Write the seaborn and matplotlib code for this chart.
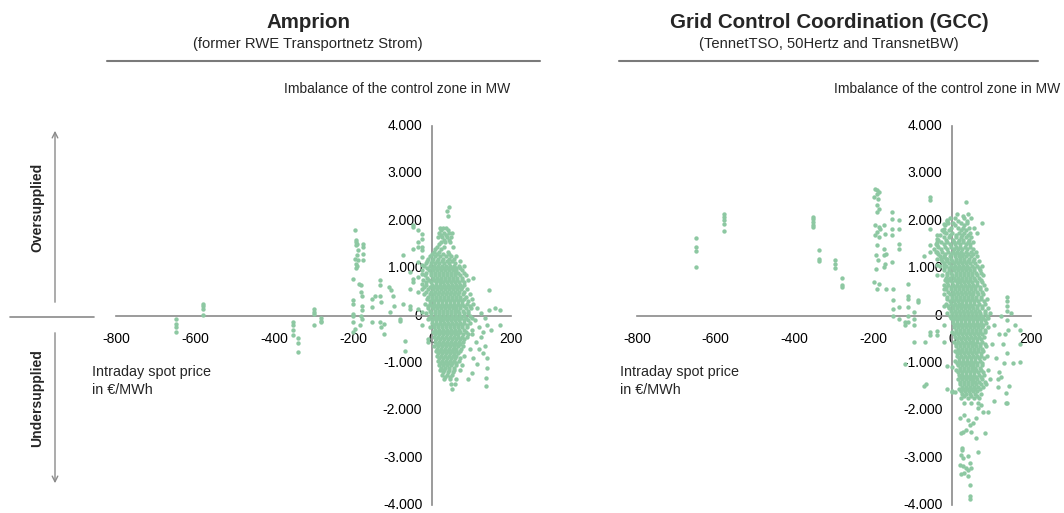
import numpy as np
import pandas as pd
import seaborn as sns
import matplotlib
matplotlib.use("Agg")
import matplotlib.pyplot as plt
from matplotlib.lines import Line2D
from matplotlib.patches import FancyArrowPatch
from matplotlib.ticker import FuncFormatter

# ---- data (price in EUR/MWh, imbalance in MW) ----

# Amprion: dense core, one row per imbalance level -> prices seen on that row
amp_core_imb = [2300, 2200, 2100, 1850, 1800, 1750, 1700, 1650, 1600, 1550, 1500, 1450, 1400,
                1350, 1300, 1250, 1200, 1150, 1100, 1050, 1000, 950, 900, 850, 800, 750, 700,
                650, 600, 550, 500, 450, 400, 350, 300, 250, 200, 150, 100, 50, 0, -50, -100,
                -150, -200, -250, -300, -350, -400, -450, -500, -550, -600, -650, -700, -750,
                -800, -850, -900, -950, -1000, -1050, -1100, -1150, -1200, -1250, -1300,
                -1350, -1450, -1550]
amp_core_price = [
    [42], [37], [41], [20, 28, 35], [24, 40], [18, 30, 42, 50], [22, 36], [15, 25, 38, 48],
    [30, 44], [22, 33, 45], [18], [12, 30, 52], [8, 24], [5, 18, 40], [0, 12, 28, 44],
    [-5, 8, 20, 35, 48, 62], [-10, 3, 15, 28, 42, 55], [-12, 0, 12, 25, 38, 50, 70],
    [-15, -2, 8, 18, 30, 42, 58], [-20, -5, 5, 15, 25, 35, 45, 55, 68, 80],
    [-12, 0, 10, 20, 30, 40, 50, 60, 72], [-25, -8, 2, 12, 22, 32, 42, 52, 62, 75],
    [-15, -3, 7, 17, 27, 37, 47, 57, 67, 80], [-18, -2, 8, 18, 28, 38, 48, 58, 70, 85],
    [-12, 3, 13, 23, 33, 43, 53, 63, 75], [-22, -8, 4, 14, 24, 34, 44, 54, 64, 76, 92],
    [-15, -2, 9, 19, 29, 39, 49, 59, 69, 82], [-15, 0, 10, 20, 30, 40, 50, 60, 70, 82],
    [-20, -5, 5, 15, 25, 35, 45, 55, 65, 77], [-25, -10, 3, 13, 23, 33, 43, 53, 63, 73, 88],
    [-15, -2, 8, 18, 28, 38, 48, 58, 68, 80], [-20, -5, 6, 16, 26, 36, 46, 56, 66, 78, 95],
    [-10, 1, 11, 21, 31, 41, 51, 61, 72, 85], [-12, 0, 10, 20, 30, 40, 50, 60, 70, 82, 100],
    [-6, 5, 15, 25, 35, 45, 55, 65, 76, 90], [-18, -4, 6, 16, 26, 36, 46, 56, 66, 76, 88],
    [-10, 1, 11, 21, 31, 41, 51, 61, 71, 82, 95], [-10, 2, 12, 22, 32, 42, 52, 62, 72, 85, 98],
    [-5, 7, 17, 27, 37, 47, 57, 67, 78, 90], [-15, -3, 8, 18, 28, 38, 48, 58, 68, 80, 92],
    [-2, 10, 20, 30, 40, 50, 60, 70, 82, 95], [-8, 4, 14, 24, 34, 44, 54, 64, 74, 86, 100],
    [0, 9, 19, 29, 39, 49, 59, 69, 80, 92], [0, 10, 20, 30, 40, 50, 60, 70, 82, 95],
    [5, 15, 25, 35, 45, 55, 65, 76, 88], [-5, 6, 16, 26, 36, 46, 56, 66, 76, 88],
    [8, 18, 28, 38, 48, 58, 68, 80], [2, 12, 22, 32, 42, 52, 62, 72, 85],
    [8, 17, 27, 37, 47, 57, 67, 78, 92], [5, 15, 25, 35, 45, 55, 65, 75, 88],
    [10, 20, 30, 40, 50, 60, 70, 82], [8, 18, 28, 38, 48, 58, 68, 78],
    [12, 22, 32, 42, 52, 62, 72], [6, 16, 26, 36, 46, 56, 66, 78],
    [12, 22, 32, 42, 52, 62, 74], [10, 20, 30, 40, 50, 60, 72], [15, 25, 35, 45, 55, 66],
    [12, 22, 32, 42, 52, 62, 80], [18, 28, 38, 48, 58, 70], [15, 25, 35, 45, 55, 68],
    [20, 30, 40, 50, 62], [18, 28, 38, 48, 60, 75], [24, 34, 44, 56], [20, 30, 42, 55, 70],
    [28, 40, 52], [25, 38, 50], [32, 46], [30, 45, 62], [48, 58], [50],
]
# Amprion: scattered points outside the core
amp_out_price = [-648, -648, -648, -648, -579, -579, -579, -579,
                 -351, -351, -351, -351, -338, -338, -338,
                 -298, -298, -298, -298, -282, -282, -282,
                 -195, -193, -192, -190, -193, -188, -190, -194, -187, -192, -189, -193,
                 -174, -174, -174, -174,
                 -199, -199, -199, -199, -201, -199, -196, -199,
                 -184, -181, -180, -178, -178, -176, -180, -178, -182,
                 -153, -153, -153, -144,
                 -132, -132, -132, -130, -132, -130, -122, -122,
                 -110, -104, -98, -95, -106, -81, -81, -73, -73, -68, -68,
                 -56, -56, -56, -56, -47, -47, -47, -47, -47,
                 -35, -35, -35, -35, -35, -35, -35,
                 -26, -26, -26, -26, -26, -26, -26, -26, -26, -26,
                 -9, -9, -9,
                 172, 172, 145, 105, 137, 137, 90, 100, 113, 134, 150, 160, 125, 140, 120,
                 105, 115, 125, 135, 145, 110, 120, 130, 140, 100, 112, 128, 95, 105, 140, 100]
amp_out_imb = [-80, -180, -240, -350, 246, 197, 141, 14,
               -141, -211, -296, -422, -479, -577, -767,
               141, 84, 35, -197, -56, -106, -141,
               1795, 1584, 1549, 1514, 1478, 1373, 1267, 1197, 1162, 1091, 1042, 1000,
               1514, 1443, 1302, 1162,
               774, 317, 246, 35, 0, -141, -282, -352,
               669, 634, 493, 422, 211, 106, 0, -70, -211,
               352, 176, -141, 422,
               739, 634, 422, 282, -141, -246, -176, -387,
               598, 528, 422, 211, 70, -70, -106, 1267, 246, -528, -739,
               915, 563, 211, 141, 1900, 1866, 1408, 774, 704,
               1795, 1549, 1443, 1126, 810, 493, 141,
               1725, 1619, 1443, 1373, 1232, 1056, 880, 669, 70, -211,
               -70, -493, -563,
               106, -211, 528, 788, -1323, -1478, -1338, -1211, -1020, -634, -300, 150, -450, -900, -700,
               250, 150, 50, -50, 120, -100, -250, -350, -200, -400, -550, -800, -700, -900, -1100, -300]

# GCC: dense core rows
gcc_core_imb = [2400, 2150, 2100, 2050, 2000, 1950, 1900, 1850, 1800, 1750, 1700, 1650, 1600,
                1550, 1500, 1450, 1400, 1350, 1300, 1250, 1200, 1150, 1100, 1050, 1000, 950,
                900, 850, 800, 750, 700, 650, 600, 550, 500, 450, 400, 350, 300, 250, 200,
                150, 100, 50, 0, -50, -100, -150, -200, -250, -300, -350, -400, -450, -500,
                -550, -600, -650, -700, -750, -800, -850, -900, -950, -1000, -1050, -1100,
                -1150, -1200, -1250, -1300, -1350, -1400, -1450, -1500, -1550, -1600, -1650,
                -1700, -1750, -1850]
gcc_core_price = [
    [36], [12, 40], [28], [-5, 8, 30, 48], [-12, 15, 38], [-10, 2, 22, 38, 75], [-18, 8, 30],
    [-3, 15, 28, 42, 55], [-25, -8, 22, 35], [-15, 0, 18, 30, 45, 62], [-30, -6, 10, 25, 40],
    [-20, -8, 10, 22, 35, 48], [-35, -15, 2, 16, 28, 42], [-28, -12, 5, 15, 28, 40, 52],
    [-40, -20, -5, 8, 20, 34, 46], [-35, -18, -2, 10, 20, 32, 45],
    [-45, -28, -12, 4, 15, 26, 38, 52], [-40, -25, -10, 2, 12, 22, 34, 48, 60],
    [-35, -18, -2, 8, 18, 28, 40, 54], [-32, -20, -5, 6, 16, 26, 36, 48, 62],
    [-28, -15, -2, 10, 20, 30, 42, 56], [-25, -12, 0, 10, 20, 30, 40, 52, 68],
    [-20, -8, 4, 14, 24, 34, 45, 58], [-30, -15, -3, 8, 18, 28, 38, 50, 62, 75],
    [-22, -9, 2, 13, 23, 33, 43, 55, 68], [-20, -8, 4, 14, 24, 34, 44, 56, 70],
    [-14, -2, 9, 19, 29, 39, 49, 60, 74], [-25, -12, 0, 10, 20, 30, 40, 50, 62, 78],
    [-16, -5, 5, 15, 25, 35, 45, 56, 68], [-18, -5, 6, 16, 26, 36, 46, 58, 72],
    [-12, 0, 11, 21, 31, 41, 51, 63, 76], [-22, -10, 2, 12, 22, 32, 42, 52, 64, 80],
    [-15, -3, 7, 17, 27, 37, 47, 57, 70], [-15, -3, 8, 18, 28, 38, 48, 58, 70, 85],
    [-10, 2, 13, 23, 33, 43, 53, 64, 76], [-20, -6, 4, 14, 24, 34, 44, 54, 66, 78],
    [-14, -1, 9, 19, 29, 39, 49, 60, 72], [-12, 0, 10, 20, 30, 40, 50, 60, 72, 88],
    [-6, 5, 15, 25, 35, 45, 55, 66, 80], [-16, -4, 6, 16, 26, 36, 46, 56, 68, 82],
    [-10, 1, 11, 21, 31, 41, 51, 62, 75], [-8, 3, 13, 23, 33, 43, 53, 63, 75, 90],
    [-3, 8, 18, 28, 38, 48, 58, 69, 82], [-12, 0, 10, 20, 30, 40, 50, 60, 70, 82, 96],
    [-6, 5, 15, 25, 35, 45, 55, 65, 76, 88], [-4, 7, 17, 27, 37, 47, 57, 67, 78, 92],
    [2, 12, 22, 32, 42, 52, 62, 72, 84], [2, 12, 22, 32, 42, 52, 62, 72, 85],
    [7, 17, 27, 37, 47, 57, 67, 78], [5, 15, 25, 35, 45, 55, 65, 76, 90],
    [10, 20, 30, 40, 50, 60, 70, 82], [0, 10, 20, 30, 40, 50, 60, 70, 82],
    [5, 15, 25, 35, 45, 55, 65, 76], [8, 18, 28, 38, 48, 58, 68, 80],
    [13, 23, 33, 43, 53, 63, 74], [4, 14, 24, 34, 44, 54, 64, 75],
    [9, 19, 29, 39, 49, 59, 70, 84], [10, 20, 30, 40, 50, 60, 70, 85],
    [15, 25, 35, 45, 55, 65, 76], [6, 16, 26, 36, 46, 56, 66, 78],
    [11, 21, 31, 41, 51, 61, 72], [12, 22, 32, 42, 52, 62, 74, 88],
    [17, 27, 37, 47, 57, 68, 80], [8, 18, 28, 38, 48, 58, 70],
    [13, 23, 33, 43, 53, 63, 76], [14, 24, 34, 44, 54, 64, 76],
    [19, 29, 39, 49, 59, 70], [10, 20, 30, 40, 50, 60, 72, 90],
    [15, 25, 35, 45, 55, 66, 78], [16, 26, 36, 46, 56, 68, 80],
    [21, 31, 41, 51, 61, 73], [14, 24, 34, 44, 54, 64, 76, 95],
    [19, 29, 39, 49, 59, 68, 82], [20, 30, 40, 50, 60, 72, 85],
    [25, 35, 45, 55, 65, 78], [18, 28, 38, 48, 58, 70], [23, 33, 43, 53, 64],
    [25, 35, 45, 58, 72], [30, 48, 62], [22, 40, 55, 68], [30, 48, 65],
]
# GCC: scattered points outside the core
gcc_out_price = [-651, -651, -651, -651, -580, -580, -580, -580, -580,
                 -354, -354, -354, -354, -354, -338, -338, -338,
                 -297, -297, -297, -280, -280, -280,
                 -195, -190, -186, -192, -198, -188, -190, -186, -192, -196, -186,
                 -182, -190, -196, -186, -190, -194, -188, -194, -198, -186, -190,
                 -174, -170, -172, -168, -174, -170, -174, -168,
                 -153, -153, -153, -153, -153, -149, -149, -149, -149,
                 -134, -134, -134, -134, -134, -134, -119, -119, -119,
                 -111, -111, -111, -111, -111, -111, -96, -96, -96, -96, -88, -88,
                 -71, -71, -68,
                 -56, -56, -56, -56, -56, -56, -56,
                 -39, -39, -39, -39, -39, -39, -39, -39, -39, -39,
                 -22, -22, -22, -22, -22, -22, -22, -22, -22,
                 -14, -14, -14, -14, -14, -1, -1,
                 139, 139, 139, 139, 140, 142, 135, 130, 138, 132, 125, 115, 105, 140,
                 172, 172, 172, 160, 155, 120, 110, 100, 118, 105, 125, 150,
                 117, 145, 137, 136, -66, 0, 6,
                 20, 29, 40, 44, 52, 61, 65, 74, 78, 91, 36, 48, 27, 22, 61, 82,
                 65, 24, 24, 22, 27, 40, 20, 27, 36, 44, 48, 31, 40, 44, 44, 46, 22, 40]
gcc_out_imb = [1633, 1443, 1352, 1021, 2147, 2077, 2006, 1936, 1774,
               2077, 2028, 1971, 1915, 1866, 1373, 1197, 1140,
               1162, 1091, 1000, 788, 648, 598,
               2675, 2640, 2605, 2570, 2500, 2464, 2323, 2253, 2182, 1900, 1866,
               1830, 1760, 1690, 1654, 1478, 1267, 1162, 986, 704, 669, 563,
               1900, 1725, 1408, 1302, 1267, 1091, 1021, 563,
               2182, 2041, 1830, 1690, 1126, 563, 317, 141, 0,
               2006, 1830, 1514, 1408, 176, -70, -141, -211, -1021,
               669, 422, 352, 176, 0, -141, 70, -70, -211, -563, 317, 282,
               1253, -1478, -563,
               2500, 2429, 1830, 1478, 1338, -352, -422,
               1690, 1619, 1549, 1478, 1338, 1197, 1056, 845, -317, -422,
               1936, 1830, 1760, 1232, 1056, 563, 211, -211, -563,
               2006, 1197, 774, -1056, -1549, -1091, -1619,
               400, 300, 200, 100, -100, -300, -400, -600, -800, -1000, -1300, -1500, -1800, -1850,
               -300, -600, -980, -200, -1000, -1200, -900, -600, -400, -200, 0, 50,
               -1347, -1497, -1640, -1850, -1452, -1593, -1607,
               -2168, -2098, -2200, -2309, -2274, -2168, -1958, -1888, -2028, -2028, -2414, -2450,
               -2450, -2484, -2589, -2484,
               -2884, -2800, -2835, -2940, -3010, -2975, -3150, -3186, -3221, -3115, -3221,
               -3326, -3396, -3572, -3818, -3867, -3340, -3256]

y_ticks = [-4000, -3000, -2000, -1000, 0, 1000, 2000, 3000, 4000]
x_ticks = [-800, -600, -400, -200, 0, 200]

panels = [
    ("Amprion", "(former RWE Transportnetz Strom)",
     amp_core_imb, amp_core_price, amp_out_price, amp_out_imb),
    ("Grid Control Coordination (GCC)", "(TennetTSO, 50Hertz and TransnetBW)",
     gcc_core_imb, gcc_core_price, gcc_out_price, gcc_out_imb),
]


def to_frame(core_imb, core_price, out_price, out_imb):
    px, iy = [], []
    for level, prices in zip(core_imb, core_price):
        px += prices
        iy += [level] * len(prices)
    px += out_price
    iy += out_imb
    return pd.DataFrame({"price": px, "imbalance": iy})


sns.set_style("white")
plt.rcParams['font.family'] = ['Liberation Sans', 'DejaVu Sans']

W, H = 1064, 513
fig = plt.figure(figsize=(W / 100, H / 100), dpi=100)

dot = "#8dc8a2"
grey = "#8a8a8a"

# axes boxes in pixels: left/right edge of the x range, rows of 4000 / -4000
boxes = [(116, 511), (637, 1031)]
top_px, bot_px = 126, 505
title_x = [308, 829]
rule_x = [(107, 540), (619, 1038)]
ylab_x = [510, 1060]
xlab_x = [92, 620]

for i, (title, sub, ci, cp, op, oi) in enumerate(panels):
    x0, x1 = boxes[i]
    ax = fig.add_axes([x0 / W, 1 - bot_px / H, (x1 - x0) / W, (bot_px - top_px) / H])
    df = to_frame(ci, cp, op, oi)
    sns.scatterplot(data=df, x="price", y="imbalance", ax=ax, color=dot,
                    s=10, linewidth=0, alpha=1, zorder=3, clip_on=False)
    ax.set_xlim(-800, 200)
    ax.set_ylim(-4000, 4000)
    ax.set_xlabel("")
    ax.set_ylabel("")
    for side in ["top", "right"]:
        ax.spines[side].set_visible(False)
    for side in ["left", "bottom"]:
        ax.spines[side].set_position(("data", 0))
        ax.spines[side].set_color(grey)
        ax.spines[side].set_linewidth(1.2)
        ax.spines[side].set_zorder(1)
    ax.set_xticks(x_ticks)
    ax.set_yticks(y_ticks)
    ax.yaxis.set_major_formatter(FuncFormatter(lambda v, p: f"{v:,.0f}".replace(",", ".")))
    ax.xaxis.set_major_formatter(FuncFormatter(lambda v, p: f"{v:.0f}"))
    ax.tick_params(axis="both", direction="out", length=4, width=1, color=grey,
                   labelsize=10, labelcolor="black", pad=8)
    ax.tick_params(axis="y", pad=3)
    for lab in ax.get_yticklabels():
        lab.set_verticalalignment("center")
    ax.patch.set_visible(False)

    fig.text(title_x[i] / W, 1 - 22 / H, title, ha="center", va="center",
             fontsize=14.8, fontweight="bold")
    fig.text(title_x[i] / W, 1 - 44 / H, sub, ha="center", va="center", fontsize=10.6)
    a, b = rule_x[i]
    fig.add_artist(Line2D([a / W, b / W], [1 - 61 / H, 1 - 61 / H], color="#7a7a7a", lw=1.5))
    fig.text(ylab_x[i] / W, 1 - 89 / H, "Imbalance of the control zone in MW",
             ha="right", va="center", fontsize=10)
    fig.text(xlab_x[i] / W, 1 - 381 / H, "Intraday spot price\nin €/MWh",
             ha="left", va="center", fontsize=10.4, linespacing=1.3)

# left side markers
fig.text(37 / W, 1 - 207 / H, "Oversupplied", rotation=90, ha="center", va="center",
         fontsize=10, fontweight="bold")
fig.text(37 / W, 1 - 398 / H, "Undersupplied", rotation=90, ha="center", va="center",
         fontsize=10, fontweight="bold")
fig.add_artist(Line2D([10 / W, 94 / W], [1 - 317 / H, 1 - 317 / H], color=grey, lw=1.2))
for y_from, y_to in [(305, 128), (330, 486)]:
    fig.add_artist(FancyArrowPatch((55 / W, 1 - y_from / H), (55 / W, 1 - y_to / H),
                                   transform=fig.transFigure,
                                   arrowstyle="->,head_length=4,head_width=2",
                                   color=grey, lw=1.0))

fig.savefig("out.png", dpi=100, facecolor="white")
